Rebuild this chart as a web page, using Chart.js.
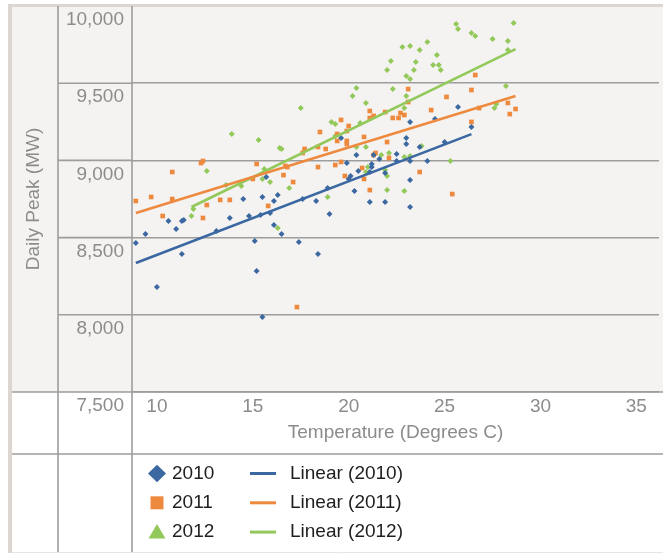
<!DOCTYPE html>
<html>
<head>
<meta charset="utf-8">
<script src="https://cdn.jsdelivr.net/npm/chart.js@4.4.1/dist/chart.umd.min.js"></script>
<style>
  html, body { margin: 0; padding: 0; background: #fff; }
</style>
</head>
<body>
<canvas id="myChart" width="663" height="553"></canvas>
<script>
// Daily peak load against temperature.
const temps2010 = [8.9, 9.4, 10.0, 10.6, 11.0, 11.3, 11.3, 11.4, 13.1, 13.8, 14.5, 14.8, 15.1, 15.2, 15.4, 15.5, 15.5, 15.7, 15.9, 16.1,
  16.1, 16.3, 16.5, 17.4, 17.6, 18.3, 18.4, 18.9, 19.0, 19.6, 19.9, 20.0, 20.1, 20.3, 20.4, 20.5, 21.1, 21.1, 21.2, 21.2,
  21.3, 21.6, 21.9, 21.9, 22.5, 22.5, 23.0, 23.0, 23.2, 23.2, 23.2, 23.2, 23.7, 24.1, 24.5, 25.0, 25.7, 26.4];
const peaks2010 = [8465, 8523, 8180, 8607, 8556, 8394, 8607, 8614, 8543, 8627, 8750, 8640, 8478, 8284, 8646, 7986, 8763, 8892, 8659, 8737,
  8582, 8776, 8523, 8471, 8750, 8737, 8394, 8821, 8653, 9145, 8983, 8880, 8899, 8802, 9035, 8931, 8925, 8731, 8977, 8957,
  9035, 9009, 8731, 8918, 9041, 8996, 9145, 9106, 9249, 8996, 8873, 8698, 9087, 8996, 9268, 9119, 9346, 9216];

const temps2011 = [8.9, 9.7, 10.3, 10.8, 10.8, 12.3, 12.4, 12.4, 12.6, 13.3, 13.8, 15.0, 15.2, 15.8, 16.6, 16.7, 16.8, 17.1, 17.3, 17.7,
  17.6, 18.4, 18.4, 18.5, 18.8, 19.3, 19.4, 19.4, 19.6, 19.6, 19.8, 19.9, 19.9, 20.0, 19.9, 20.7, 20.8, 20.8, 21.1, 21.1,
  21.1, 21.3, 21.3, 21.4, 21.9, 22.0, 22.1, 22.3, 22.6, 22.7, 22.9, 23.1, 23.1, 23.7, 24.3, 25.1, 25.4, 26.4, 26.4, 26.6,
  26.8, 28.3, 28.4, 28.7];
const peaks2011 = [8737, 8763, 8640, 8925, 8750, 8983, 8996, 8627, 8711, 8744, 8744, 8880, 8977, 8705, 8905, 8964, 8957, 8860, 8050, 9074,
  9048, 9087, 8957, 9184, 9074, 8970, 9171, 9126, 9262, 8990, 8899, 9126, 9106, 9223, 9190, 8951, 9152, 8880, 9320, 8808,
  9275, 9288, 9035, 9048, 9313, 9119, 9016, 9275, 9275, 9307, 9294, 9462, 9378, 8925, 9326, 9411, 8782, 9249, 9456, 9553,
  9339, 9372, 9300, 9333];

const temps2012 = [11.8, 11.9, 12.6, 13.6, 13.9, 14.4, 15.3, 15.5, 15.6, 15.9, 16.3, 16.4, 16.5, 16.9, 17.5, 18.9, 19.1, 19.3, 19.3, 20.2,
  20.4, 20.4, 20.6, 20.9, 20.9, 21.0, 20.9, 21.7, 21.9, 22.0, 22.0, 22.0, 22.1, 22.2, 22.3, 22.8, 22.9, 22.9, 22.9, 23.0,
  23.0, 23.2, 23.2, 23.2, 23.4, 23.5, 23.7, 23.8, 24.1, 24.4, 24.6, 24.7, 24.8, 25.3, 25.6, 25.7, 26.4, 26.6, 27.5, 27.6,
  27.7, 28.2, 28.3, 28.3, 28.6];
const peaks2012 = [8640, 8685, 8931, 8841, 9171, 8834, 9132, 8880, 8944, 8860, 8562, 9080, 9074, 8821, 9339, 8763, 9249, 9236, 9158, 9417,
  9469, 9087, 9242, 9372, 9087, 8957, 8925, 9035, 8938, 8899, 8808, 9585, 9048, 9644, 9462, 9734, 9339, 8802, 9022, 9547,
  9417, 9527, 9028, 9741, 9585, 9637, 9715, 9093, 9767, 9618, 9683, 9618, 9585, 8996, 9883, 9851, 9825, 9806, 9786, 9339,
  9365, 9482, 9715, 9773, 9890];

// trendline end points as drawn in the picture
const trendTemps2010 = [8.9, 26.4];
const trendPeaks2010 = [8335, 9170];
const trendTemps2011 = [8.9, 28.7];
const trendPeaks2011 = [8660, 9417];
const trendTemps2012 = [11.8, 28.7];
const trendPeaks2012 = [8698, 9721];

const xTicks = [10, 15, 20, 25, 30, 35];
const yTicks = [7500, 8000, 8500, 9000, 9500, 10000];

const BLUE = '#3b68a1';
const ORANGE = '#ee8a3f';
const GREEN = '#93c95b';
const GRID = '#9d9d9d';
const LABEL = '#8c8c8c';
const FONT = '"Liberation Sans", Arial, sans-serif';

function toPoints(xs, ys) {
  return xs.map((x, i) => ({ x: x, y: ys[i] }));
}

// background panel and the table lines around the plot
const tableFrame = {
  id: 'tableFrame',
  beforeDraw(chart) {
    const ctx = chart.ctx;
    const yScale = chart.scales.y;
    const W = chart.width, H = chart.height;
    const bottom = yScale.getPixelForValue(7500);
    ctx.save();
    ctx.fillStyle = '#ffffff';
    ctx.fillRect(0, 0, W, H);
    ctx.fillStyle = '#f4f3f1';
    ctx.fillRect(12, 6, W - 12, bottom - 6);
    ctx.fillStyle = '#ddd5d0';
    ctx.fillRect(8, 4, W - 8, 3);
    ctx.fillRect(8, 4, 4, H - 4);

    ctx.strokeStyle = GRID;
    ctx.lineWidth = 1.6;
    ctx.beginPath();
    yTicks.forEach(v => {
      if (v === 10000 || v === 7500) return;
      const p = yScale.getPixelForValue(v);
      ctx.moveTo(58, p);
      ctx.lineTo(chart.chartArea.left, p);
    });
    ctx.moveTo(12, bottom);
    ctx.lineTo(W, bottom);
    ctx.moveTo(12, 454);
    ctx.lineTo(W, 454);
    ctx.moveTo(58, 6);
    ctx.lineTo(58, H);
    ctx.moveTo(chart.chartArea.left, 6);
    ctx.lineTo(chart.chartArea.left, H);
    ctx.stroke();
    ctx.strokeStyle = '#e6e6e6';
    ctx.lineWidth = 1;
    ctx.beginPath();
    ctx.moveTo(12, H - 0.5);
    ctx.lineTo(W, H - 0.5);
    ctx.stroke();
    ctx.restore();
  }
};

// two column legend under the axis title
const tableLegend = {
  id: 'tableLegend',
  afterDraw(chart) {
    const ctx = chart.ctx;
    ctx.save();
    ctx.font = '19px ' + FONT;
    ctx.textBaseline = 'middle';
    chart.data.datasets.forEach(ds => {
      const y = 473.5 + ds.legendRow * 29.3;
      ctx.fillStyle = ds.borderColor;
      ctx.strokeStyle = ds.borderColor;
      if (ds.showLine) {
        ctx.lineWidth = 3;
        ctx.beginPath();
        ctx.moveTo(250, y);
        ctx.lineTo(276, y);
        ctx.stroke();
        ctx.fillStyle = '#1e1e1e';
        ctx.fillText(ds.label, 290, y);
        return;
      }
      ctx.beginPath();
      if (ds.legendMarker === 'diamond') {
        ctx.moveTo(157, y - 8.8);
        ctx.lineTo(166, y);
        ctx.lineTo(157, y + 8.8);
        ctx.lineTo(148, y);
      } else if (ds.legendMarker === 'square') {
        ctx.rect(150.5, y - 6.5, 13, 13);
      } else {
        ctx.moveTo(157, y - 8);
        ctx.lineTo(165.5, y + 6.5);
        ctx.lineTo(148.5, y + 6.5);
      }
      ctx.closePath();
      ctx.fill();
      ctx.fillStyle = '#1e1e1e';
      ctx.fillText(ds.label, 172, y);
    });
    ctx.restore();
  }
};

const canvas = document.getElementById('myChart');

new Chart(canvas, {
  type: 'scatter',
  data: {
    datasets: [
      {
        label: '2010', data: toPoints(temps2010, peaks2010),
        backgroundColor: BLUE, borderColor: BLUE, pointStyle: 'rectRot',
        pointRadius: 3, borderWidth: 0, legendRow: 0, legendMarker: 'diamond', order: 2,
      },
      {
        label: '2011', data: toPoints(temps2011, peaks2011),
        backgroundColor: ORANGE, borderColor: ORANGE, pointStyle: 'rect',
        pointRadius: 3.3, borderWidth: 0, legendRow: 1, legendMarker: 'square', order: 2,
      },
      {
        label: '2012', data: toPoints(temps2012, peaks2012),
        backgroundColor: GREEN, borderColor: GREEN, pointStyle: 'rectRot',
        pointRadius: 3, borderWidth: 0, legendRow: 2, legendMarker: 'triangle', order: 2,
      },
      {
        label: 'Linear (2010)', data: toPoints(trendTemps2010, trendPeaks2010),
        borderColor: BLUE, showLine: true, pointRadius: 0, borderWidth: 2.6, legendRow: 0, order: 1,
      },
      {
        label: 'Linear (2011)', data: toPoints(trendTemps2011, trendPeaks2011),
        borderColor: ORANGE, showLine: true, pointRadius: 0, borderWidth: 2.6, legendRow: 1, order: 1,
      },
      {
        label: 'Linear (2012)', data: toPoints(trendTemps2012, trendPeaks2012),
        borderColor: GREEN, showLine: true, pointRadius: 0, borderWidth: 2.6, legendRow: 2, order: 1,
      },
    ],
  },
  options: {
    responsive: false,
    animation: false,
    locale: 'en-US',
    layout: { padding: { top: 6, left: 0, right: 0, bottom: 0 } },
    plugins: {
      legend: { display: false },
      tooltip: { enabled: false },
    },
    scales: {
      x: {
        type: 'linear',
        min: 8.7,
        max: 36.18,
        afterFit: scale => {
          scale.height = 161;
          scale.paddingLeft = 0;
          scale.paddingRight = 0;
        },
        afterBuildTicks: scale => { scale.ticks = xTicks.map(v => ({ value: v })); },
        grid: { display: false, drawTicks: false },
        border: { display: false },
        ticks: { color: LABEL, font: { size: 19, family: FONT }, padding: 3, maxRotation: 0, autoSkip: false },
        title: {
          display: true, text: 'Temperature (Degrees C)', color: LABEL,
          font: { size: 19, family: FONT }, padding: { top: 0, bottom: 109 },
        },
      },
      y: {
        type: 'linear',
        min: 7500,
        max: 10000,
        afterFit: scale => {
          scale.width = 132;
          scale.paddingTop = 0;
          scale.paddingBottom = 0;
        },
        afterBuildTicks: scale => { scale.ticks = yTicks.map(v => ({ value: v })); },
        grid: {
          drawTicks: false,
          lineWidth: 1.6,
          color: c => (c.tick && c.tick.value === 10000 ? 'rgba(0,0,0,0)' : GRID),
        },
        border: { display: false },
        ticks: { color: LABEL, font: { size: 19, family: FONT }, padding: 8, labelOffset: 14, autoSkip: false },
        title: {
          display: true, text: 'Daily Peak (MW)', color: LABEL,
          font: { size: 19, family: FONT }, padding: { top: 22, bottom: 0 },
        },
      },
    },
  },
  plugins: [tableFrame, tableLegend],
});
</script>
</body>
</html>
